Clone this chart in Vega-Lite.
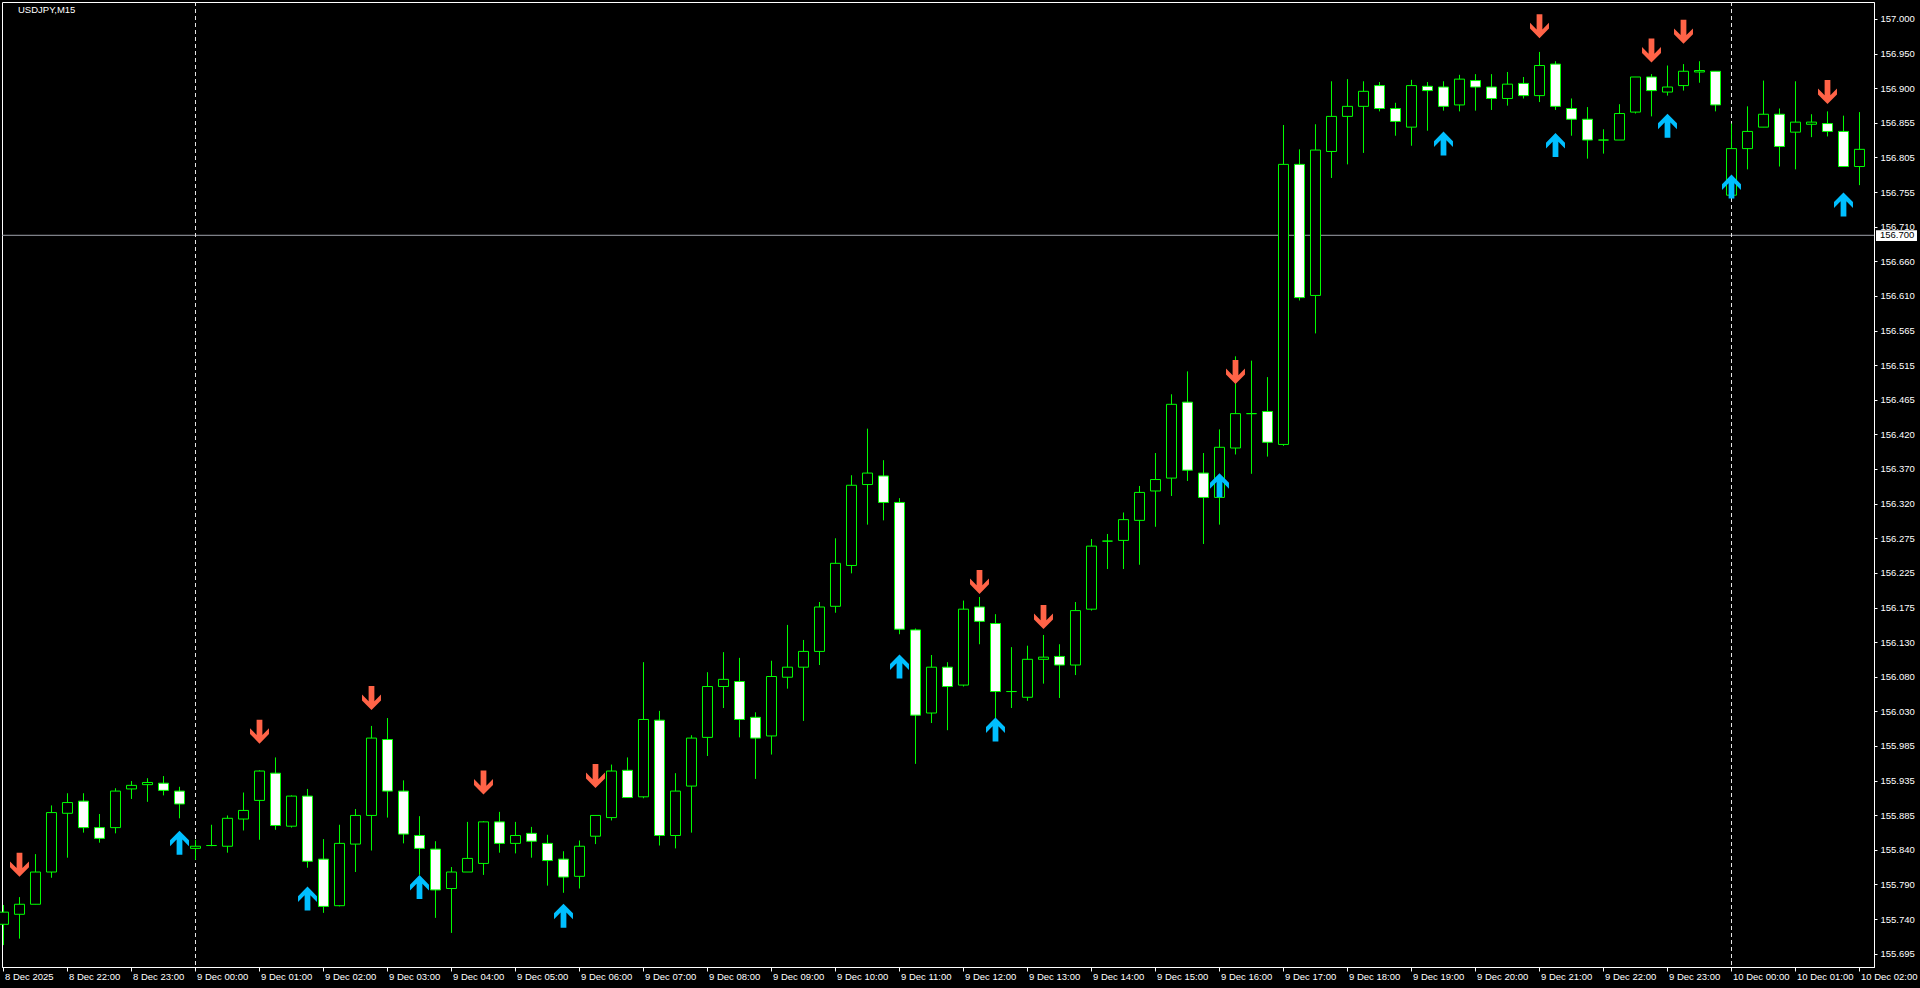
{
  "$schema": "https://vega.github.io/schema/vega-lite/v6.json",
  "width": 1872,
  "height": 965,
  "autosize": {"type": "none"},
  "padding": {"left": 2, "top": 2, "right": 46, "bottom": 21},
  "background": "black",
  "title": {"text": "USDJPY,M15", "anchor": "start", "frame": "group", "orient": "top", "offset": -13, "dx": 16, "color": "white", "fontSize": 9.5, "fontWeight": "normal", "font": "Liberation Sans"},
  "datasets": {
    "candles": [
      {"t":"2025-12-08T21:00","o":155.736,"h":155.763,"l":155.707,"c":155.753},
      {"t":"2025-12-08T21:15","o":155.750,"h":155.774,"l":155.716,"c":155.764},
      {"t":"2025-12-08T21:30","o":155.764,"h":155.834,"l":155.764,"c":155.809},
      {"t":"2025-12-08T21:45","o":155.809,"h":155.902,"l":155.801,"c":155.892},
      {"t":"2025-12-08T22:00","o":155.891,"h":155.919,"l":155.829,"c":155.906},
      {"t":"2025-12-08T22:15","o":155.908,"h":155.919,"l":155.864,"c":155.871},
      {"t":"2025-12-08T22:30","o":155.871,"h":155.890,"l":155.850,"c":155.856},
      {"t":"2025-12-08T22:45","o":155.871,"h":155.926,"l":155.863,"c":155.922},
      {"t":"2025-12-08T23:00","o":155.925,"h":155.936,"l":155.911,"c":155.930},
      {"t":"2025-12-08T23:15","o":155.931,"h":155.940,"l":155.907,"c":155.934},
      {"t":"2025-12-08T23:30","o":155.933,"h":155.943,"l":155.916,"c":155.923},
      {"t":"2025-12-08T23:45","o":155.922,"h":155.928,"l":155.884,"c":155.904},
      {"t":"2025-12-09T00:00","o":155.842,"h":155.854,"l":155.826,"c":155.845},
      {"t":"2025-12-09T00:15","o":155.846,"h":155.875,"l":155.845,"c":155.846},
      {"t":"2025-12-09T00:30","o":155.845,"h":155.888,"l":155.836,"c":155.884},
      {"t":"2025-12-09T00:45","o":155.883,"h":155.920,"l":155.867,"c":155.895},
      {"t":"2025-12-09T01:00","o":155.909,"h":155.951,"l":155.854,"c":155.950},
      {"t":"2025-12-09T01:15","o":155.947,"h":155.969,"l":155.868,"c":155.874},
      {"t":"2025-12-09T01:30","o":155.873,"h":155.916,"l":155.871,"c":155.915},
      {"t":"2025-12-09T01:45","o":155.915,"h":155.925,"l":155.815,"c":155.824},
      {"t":"2025-12-09T02:00","o":155.827,"h":155.855,"l":155.752,"c":155.761},
      {"t":"2025-12-09T02:15","o":155.762,"h":155.875,"l":155.761,"c":155.849},
      {"t":"2025-12-09T02:30","o":155.848,"h":155.897,"l":155.809,"c":155.888},
      {"t":"2025-12-09T02:45","o":155.888,"h":156.013,"l":155.839,"c":155.996},
      {"t":"2025-12-09T03:00","o":155.994,"h":156.024,"l":155.885,"c":155.922},
      {"t":"2025-12-09T03:15","o":155.922,"h":155.937,"l":155.849,"c":155.862},
      {"t":"2025-12-09T03:30","o":155.860,"h":155.887,"l":155.805,"c":155.842},
      {"t":"2025-12-09T03:45","o":155.841,"h":155.852,"l":155.745,"c":155.784},
      {"t":"2025-12-09T04:00","o":155.786,"h":155.816,"l":155.724,"c":155.809},
      {"t":"2025-12-09T04:15","o":155.809,"h":155.879,"l":155.809,"c":155.828},
      {"t":"2025-12-09T04:30","o":155.821,"h":155.880,"l":155.805,"c":155.879},
      {"t":"2025-12-09T04:45","o":155.879,"h":155.893,"l":155.836,"c":155.849},
      {"t":"2025-12-09T05:00","o":155.849,"h":155.879,"l":155.835,"c":155.860},
      {"t":"2025-12-09T05:15","o":155.863,"h":155.872,"l":155.829,"c":155.852},
      {"t":"2025-12-09T05:30","o":155.849,"h":155.861,"l":155.790,"c":155.825},
      {"t":"2025-12-09T05:45","o":155.827,"h":155.838,"l":155.780,"c":155.802},
      {"t":"2025-12-09T06:00","o":155.803,"h":155.853,"l":155.786,"c":155.845},
      {"t":"2025-12-09T06:15","o":155.859,"h":155.888,"l":155.848,"c":155.888},
      {"t":"2025-12-09T06:30","o":155.885,"h":155.959,"l":155.881,"c":155.950},
      {"t":"2025-12-09T06:45","o":155.951,"h":155.969,"l":155.913,"c":155.913},
      {"t":"2025-12-09T07:00","o":155.914,"h":156.102,"l":155.912,"c":156.022},
      {"t":"2025-12-09T07:15","o":156.021,"h":156.034,"l":155.846,"c":155.860},
      {"t":"2025-12-09T07:30","o":155.860,"h":155.947,"l":155.842,"c":155.922},
      {"t":"2025-12-09T07:45","o":155.929,"h":156.000,"l":155.864,"c":155.996},
      {"t":"2025-12-09T08:00","o":155.997,"h":156.088,"l":155.971,"c":156.068},
      {"t":"2025-12-09T08:15","o":156.068,"h":156.116,"l":156.038,"c":156.078},
      {"t":"2025-12-09T08:30","o":156.075,"h":156.108,"l":155.997,"c":156.022},
      {"t":"2025-12-09T08:45","o":156.025,"h":156.032,"l":155.939,"c":155.996},
      {"t":"2025-12-09T09:00","o":155.999,"h":156.104,"l":155.973,"c":156.082},
      {"t":"2025-12-09T09:15","o":156.081,"h":156.154,"l":156.065,"c":156.095},
      {"t":"2025-12-09T09:30","o":156.095,"h":156.133,"l":156.020,"c":156.117},
      {"t":"2025-12-09T09:45","o":156.117,"h":156.186,"l":156.098,"c":156.179},
      {"t":"2025-12-09T10:00","o":156.180,"h":156.275,"l":156.171,"c":156.240},
      {"t":"2025-12-09T10:15","o":156.237,"h":156.363,"l":156.226,"c":156.349},
      {"t":"2025-12-09T10:30","o":156.350,"h":156.428,"l":156.294,"c":156.366},
      {"t":"2025-12-09T10:45","o":156.362,"h":156.384,"l":156.300,"c":156.325},
      {"t":"2025-12-09T11:00","o":156.325,"h":156.331,"l":156.141,"c":156.148},
      {"t":"2025-12-09T11:15","o":156.147,"h":156.149,"l":155.960,"c":156.028},
      {"t":"2025-12-09T11:30","o":156.031,"h":156.112,"l":156.017,"c":156.095},
      {"t":"2025-12-09T11:45","o":156.095,"h":156.102,"l":156.007,"c":156.068},
      {"t":"2025-12-09T12:00","o":156.070,"h":156.188,"l":156.068,"c":156.176},
      {"t":"2025-12-09T12:15","o":156.179,"h":156.193,"l":156.127,"c":156.159},
      {"t":"2025-12-09T12:30","o":156.156,"h":156.169,"l":156.021,"c":156.061},
      {"t":"2025-12-09T12:45","o":156.061,"h":156.123,"l":156.038,"c":156.061},
      {"t":"2025-12-09T13:00","o":156.053,"h":156.125,"l":156.048,"c":156.106},
      {"t":"2025-12-09T13:15","o":156.106,"h":156.140,"l":156.072,"c":156.109},
      {"t":"2025-12-09T13:30","o":156.110,"h":156.127,"l":156.052,"c":156.098},
      {"t":"2025-12-09T13:45","o":156.098,"h":156.186,"l":156.084,"c":156.174},
      {"t":"2025-12-09T14:00","o":156.176,"h":156.274,"l":156.174,"c":156.264},
      {"t":"2025-12-09T14:15","o":156.271,"h":156.281,"l":156.232,"c":156.271},
      {"t":"2025-12-09T14:30","o":156.272,"h":156.311,"l":156.232,"c":156.301},
      {"t":"2025-12-09T14:45","o":156.300,"h":156.348,"l":156.238,"c":156.339},
      {"t":"2025-12-09T15:00","o":156.341,"h":156.394,"l":156.291,"c":156.357},
      {"t":"2025-12-09T15:15","o":156.359,"h":156.476,"l":156.334,"c":156.462},
      {"t":"2025-12-09T15:30","o":156.465,"h":156.508,"l":156.355,"c":156.370},
      {"t":"2025-12-09T15:45","o":156.366,"h":156.394,"l":156.267,"c":156.332},
      {"t":"2025-12-09T16:00","o":156.332,"h":156.427,"l":156.294,"c":156.402},
      {"t":"2025-12-09T16:15","o":156.401,"h":156.529,"l":156.392,"c":156.449},
      {"t":"2025-12-09T16:30","o":156.449,"h":156.523,"l":156.365,"c":156.449},
      {"t":"2025-12-09T16:45","o":156.452,"h":156.500,"l":156.389,"c":156.409},
      {"t":"2025-12-09T17:00","o":156.406,"h":156.852,"l":156.404,"c":156.797},
      {"t":"2025-12-09T17:15","o":156.797,"h":156.818,"l":156.607,"c":156.611},
      {"t":"2025-12-09T17:30","o":156.614,"h":156.853,"l":156.561,"c":156.817},
      {"t":"2025-12-09T17:45","o":156.815,"h":156.913,"l":156.778,"c":156.864},
      {"t":"2025-12-09T18:00","o":156.864,"h":156.916,"l":156.797,"c":156.878},
      {"t":"2025-12-09T18:15","o":156.878,"h":156.913,"l":156.813,"c":156.899},
      {"t":"2025-12-09T18:30","o":156.907,"h":156.912,"l":156.871,"c":156.875},
      {"t":"2025-12-09T18:45","o":156.875,"h":156.883,"l":156.837,"c":156.857},
      {"t":"2025-12-09T19:00","o":156.849,"h":156.915,"l":156.823,"c":156.907},
      {"t":"2025-12-09T19:15","o":156.906,"h":156.912,"l":156.844,"c":156.900},
      {"t":"2025-12-09T19:30","o":156.905,"h":156.913,"l":156.872,"c":156.878},
      {"t":"2025-12-09T19:45","o":156.880,"h":156.922,"l":156.871,"c":156.916},
      {"t":"2025-12-09T20:00","o":156.914,"h":156.923,"l":156.872,"c":156.905},
      {"t":"2025-12-09T20:15","o":156.905,"h":156.923,"l":156.873,"c":156.889},
      {"t":"2025-12-09T20:30","o":156.889,"h":156.926,"l":156.879,"c":156.909},
      {"t":"2025-12-09T20:45","o":156.910,"h":156.919,"l":156.889,"c":156.893},
      {"t":"2025-12-09T21:00","o":156.893,"h":156.954,"l":156.884,"c":156.935},
      {"t":"2025-12-09T21:15","o":156.937,"h":156.941,"l":156.873,"c":156.878},
      {"t":"2025-12-09T21:30","o":156.875,"h":156.889,"l":156.837,"c":156.860},
      {"t":"2025-12-09T21:45","o":156.860,"h":156.877,"l":156.805,"c":156.831},
      {"t":"2025-12-09T22:00","o":156.831,"h":156.846,"l":156.812,"c":156.831},
      {"t":"2025-12-09T22:15","o":156.831,"h":156.881,"l":156.831,"c":156.868},
      {"t":"2025-12-09T22:30","o":156.870,"h":156.919,"l":156.868,"c":156.919},
      {"t":"2025-12-09T22:45","o":156.919,"h":156.923,"l":156.864,"c":156.900},
      {"t":"2025-12-09T23:00","o":156.898,"h":156.935,"l":156.893,"c":156.905},
      {"t":"2025-12-09T23:15","o":156.907,"h":156.937,"l":156.900,"c":156.927},
      {"t":"2025-12-09T23:30","o":156.926,"h":156.941,"l":156.911,"c":156.928},
      {"t":"2025-12-09T23:45","o":156.927,"h":156.927,"l":156.871,"c":156.880},
      {"t":"2025-12-10T00:00","o":156.754,"h":156.854,"l":156.753,"c":156.819},
      {"t":"2025-12-10T00:15","o":156.819,"h":156.878,"l":156.790,"c":156.843},
      {"t":"2025-12-10T00:30","o":156.849,"h":156.914,"l":156.849,"c":156.867},
      {"t":"2025-12-10T00:45","o":156.867,"h":156.875,"l":156.794,"c":156.822},
      {"t":"2025-12-10T01:00","o":156.842,"h":156.913,"l":156.790,"c":156.856},
      {"t":"2025-12-10T01:15","o":156.853,"h":156.867,"l":156.835,"c":156.856},
      {"t":"2025-12-10T01:30","o":156.854,"h":156.871,"l":156.836,"c":156.843},
      {"t":"2025-12-10T01:45","o":156.843,"h":156.865,"l":156.794,"c":156.794},
      {"t":"2025-12-10T02:00","o":156.794,"h":156.870,"l":156.768,"c":156.818}
    ],
    "dn": [
      {"t":"2025-12-08T21:15","p":155.819},
      {"t":"2025-12-09T01:00","p":156.005},
      {"t":"2025-12-09T02:45","p":156.052},
      {"t":"2025-12-09T04:30","p":155.934},
      {"t":"2025-12-09T06:15","p":155.943},
      {"t":"2025-12-09T12:15","p":156.214},
      {"t":"2025-12-09T13:15","p":156.165},
      {"t":"2025-12-09T16:15","p":156.507},
      {"t":"2025-12-09T21:00","p":156.990},
      {"t":"2025-12-09T22:45","p":156.956},
      {"t":"2025-12-09T23:15","p":156.982},
      {"t":"2025-12-10T01:30","p":156.898}
    ],
    "up": [
      {"t":"2025-12-08T23:45","p":155.850},
      {"t":"2025-12-09T01:45","p":155.772},
      {"t":"2025-12-09T03:30","p":155.788},
      {"t":"2025-12-09T05:45","p":155.748},
      {"t":"2025-12-09T11:00","p":156.096},
      {"t":"2025-12-09T12:30","p":156.008},
      {"t":"2025-12-09T16:00","p":156.349},
      {"t":"2025-12-09T19:30","p":156.826},
      {"t":"2025-12-09T21:15","p":156.824},
      {"t":"2025-12-09T23:00","p":156.851},
      {"t":"2025-12-10T00:00","p":156.766},
      {"t":"2025-12-10T01:45","p":156.741}
    ],
    "sep": [
      {"t":"2025-12-09T00:00"},
      {"t":"2025-12-10T00:00"}
    ],
    "bid": [
      {"p":156.698,"p0":156.705,"p1":156.690,"t0":"2025-12-10T02:15:28","t1":"2025-12-10T02:53:54","tt":"2025-12-10T02:19:13","label":"156.700"}
    ]
  },
  "layer": [
    {
      "data": {"name": "bid"},
      "mark": {"type": "rule", "color": "#A0A4AC", "strokeWidth": 1},
      "encoding": {
        "y": {"field": "p", "type": "quantitative", "title": null,
          "scale": {"domain": [155.6764, 157.0237], "zero": false, "nice": false, "padding": 0},
          "axis": {"orient": "right", "tickCount": 60, "values": [157.0,156.9517,156.9033,156.855,156.8067,156.7583,156.71,156.6617,156.6133,156.565,156.5167,156.4683,156.42,156.3717,156.3233,156.275,156.2267,156.1783,156.13,156.0817,156.0333,155.985,155.9367,155.8883,155.84,155.7917,155.7433,155.695],
            "labelExpr": "format(floor(datum.value*200+0.01)/200, '.3f')", "tickSize": 3, "labelPadding": 3, "labelOverlap": false, "labelBound": false}}
      }
    },
    {
      "data": {"name": "sep"},
      "mark": {"type": "rule", "color": "#E8E8E8", "strokeWidth": 1, "strokeDash": [4, 3]},
      "encoding": {
        "x": {"field": "t", "type": "temporal", "title": null,
          "scale": {"domain": ["2025-12-08T20:58:36", "2025-12-10T02:13:36"], "padding": 0, "nice": false},
          "axis": {
            "tickCount": 60,
            "values": [
              {"year":2025,"month":12,"date":8,"hours":21},{"year":2025,"month":12,"date":8,"hours":22},{"year":2025,"month":12,"date":8,"hours":23},
              {"year":2025,"month":12,"date":9,"hours":0},{"year":2025,"month":12,"date":9,"hours":1},{"year":2025,"month":12,"date":9,"hours":2},
              {"year":2025,"month":12,"date":9,"hours":3},{"year":2025,"month":12,"date":9,"hours":4},{"year":2025,"month":12,"date":9,"hours":5},
              {"year":2025,"month":12,"date":9,"hours":6},{"year":2025,"month":12,"date":9,"hours":7},{"year":2025,"month":12,"date":9,"hours":8},
              {"year":2025,"month":12,"date":9,"hours":9},{"year":2025,"month":12,"date":9,"hours":10},{"year":2025,"month":12,"date":9,"hours":11},
              {"year":2025,"month":12,"date":9,"hours":12},{"year":2025,"month":12,"date":9,"hours":13},{"year":2025,"month":12,"date":9,"hours":14},
              {"year":2025,"month":12,"date":9,"hours":15},{"year":2025,"month":12,"date":9,"hours":16},{"year":2025,"month":12,"date":9,"hours":17},
              {"year":2025,"month":12,"date":9,"hours":18},{"year":2025,"month":12,"date":9,"hours":19},{"year":2025,"month":12,"date":9,"hours":20},
              {"year":2025,"month":12,"date":9,"hours":21},{"year":2025,"month":12,"date":9,"hours":22},{"year":2025,"month":12,"date":9,"hours":23},
              {"year":2025,"month":12,"date":10,"hours":0},{"year":2025,"month":12,"date":10,"hours":1},{"year":2025,"month":12,"date":10,"hours":2}
            ],
            "format": "%-d %b %H:%M",
            "labelExpr": "timeFormat(datum.value, '%d %H') == '08 21' ? '8 Dec 2025' : datum.label"}}
      }
    },
    {
      "data": {"name": "candles"},
      "mark": {"type": "rule", "color": "#00FF00", "strokeWidth": 1},
      "encoding": {
        "x": {"field": "t", "type": "temporal", "title": null},
        "y": {"field": "l", "type": "quantitative", "title": null},
        "y2": {"field": "h"}
      }
    },
    {
      "data": {"name": "candles"},
      "mark": {"type": "bar", "width": 10, "stroke": "#00FF00", "strokeWidth": 1},
      "encoding": {
        "x": {"field": "t", "type": "temporal", "title": null},
        "y": {"field": "o", "type": "quantitative", "title": null},
        "y2": {"field": "c"},
        "fill": {"condition": {"test": "datum.c >= datum.o", "value": "black"}, "value": "white"}
      }
    },
    {
      "data": {"name": "dn"},
      "mark": {"type": "point", "filled": true, "opacity": 1, "size": 576, "color": "#FF6347", "strokeWidth": 0,
        "shape": "M-0.24,-1L0.24,-1L0.24,0.27L0.79,-0.29L0.79,0.2L0,1L-0.79,0.2L-0.79,-0.29L-0.24,0.27Z"},
      "encoding": {
        "x": {"field": "t", "type": "temporal", "title": null},
        "y": {"field": "p", "type": "quantitative", "title": null}
      }
    },
    {
      "data": {"name": "up"},
      "mark": {"type": "point", "filled": true, "opacity": 1, "size": 576, "color": "#00BFFF", "strokeWidth": 0,
        "shape": "M-0.24,1L0.24,1L0.24,-0.27L0.79,0.29L0.79,-0.2L0,-1L-0.79,-0.2L-0.79,0.29L-0.24,-0.27Z"},
      "encoding": {
        "x": {"field": "t", "type": "temporal", "title": null},
        "y": {"field": "p", "type": "quantitative", "title": null}
      }
    },
    {
      "data": {"name": "bid"},
      "mark": {"type": "rect", "fill": "white"},
      "encoding": {
        "x": {"field": "t0", "type": "temporal", "title": null},
        "x2": {"field": "t1"},
        "y": {"field": "p0", "type": "quantitative", "title": null},
        "y2": {"field": "p1"}
      }
    },
    {
      "data": {"name": "bid"},
      "mark": {"type": "text", "color": "black", "align": "left", "baseline": "middle", "font": "Liberation Sans", "fontSize": 9.5},
      "encoding": {
        "x": {"field": "tt", "type": "temporal", "title": null},
        "y": {"field": "p", "type": "quantitative", "title": null},
        "text": {"field": "label"}
      }
    }
  ],
  "config": {
    "view": {"stroke": "white", "strokeWidth": 1, "fill": "black"},
    "scale": {"continuousPadding": 0},
    "axis": {"domainColor": "white", "tickColor": "white", "labelColor": "white", "labelFont": "Liberation Sans", "labelFontSize": 9.5, "grid": false, "domainWidth": 1, "tickWidth": 1},
    "axisX": {"tickSize": 4, "labelAlign": "left", "labelBaseline": "top", "labelPadding": 0, "labelFlush": false, "labelOverlap": false, "labelOffset": 1},
    "axisY": {"labelBaseline": "middle", "labelOverlap": false}
  }
}
